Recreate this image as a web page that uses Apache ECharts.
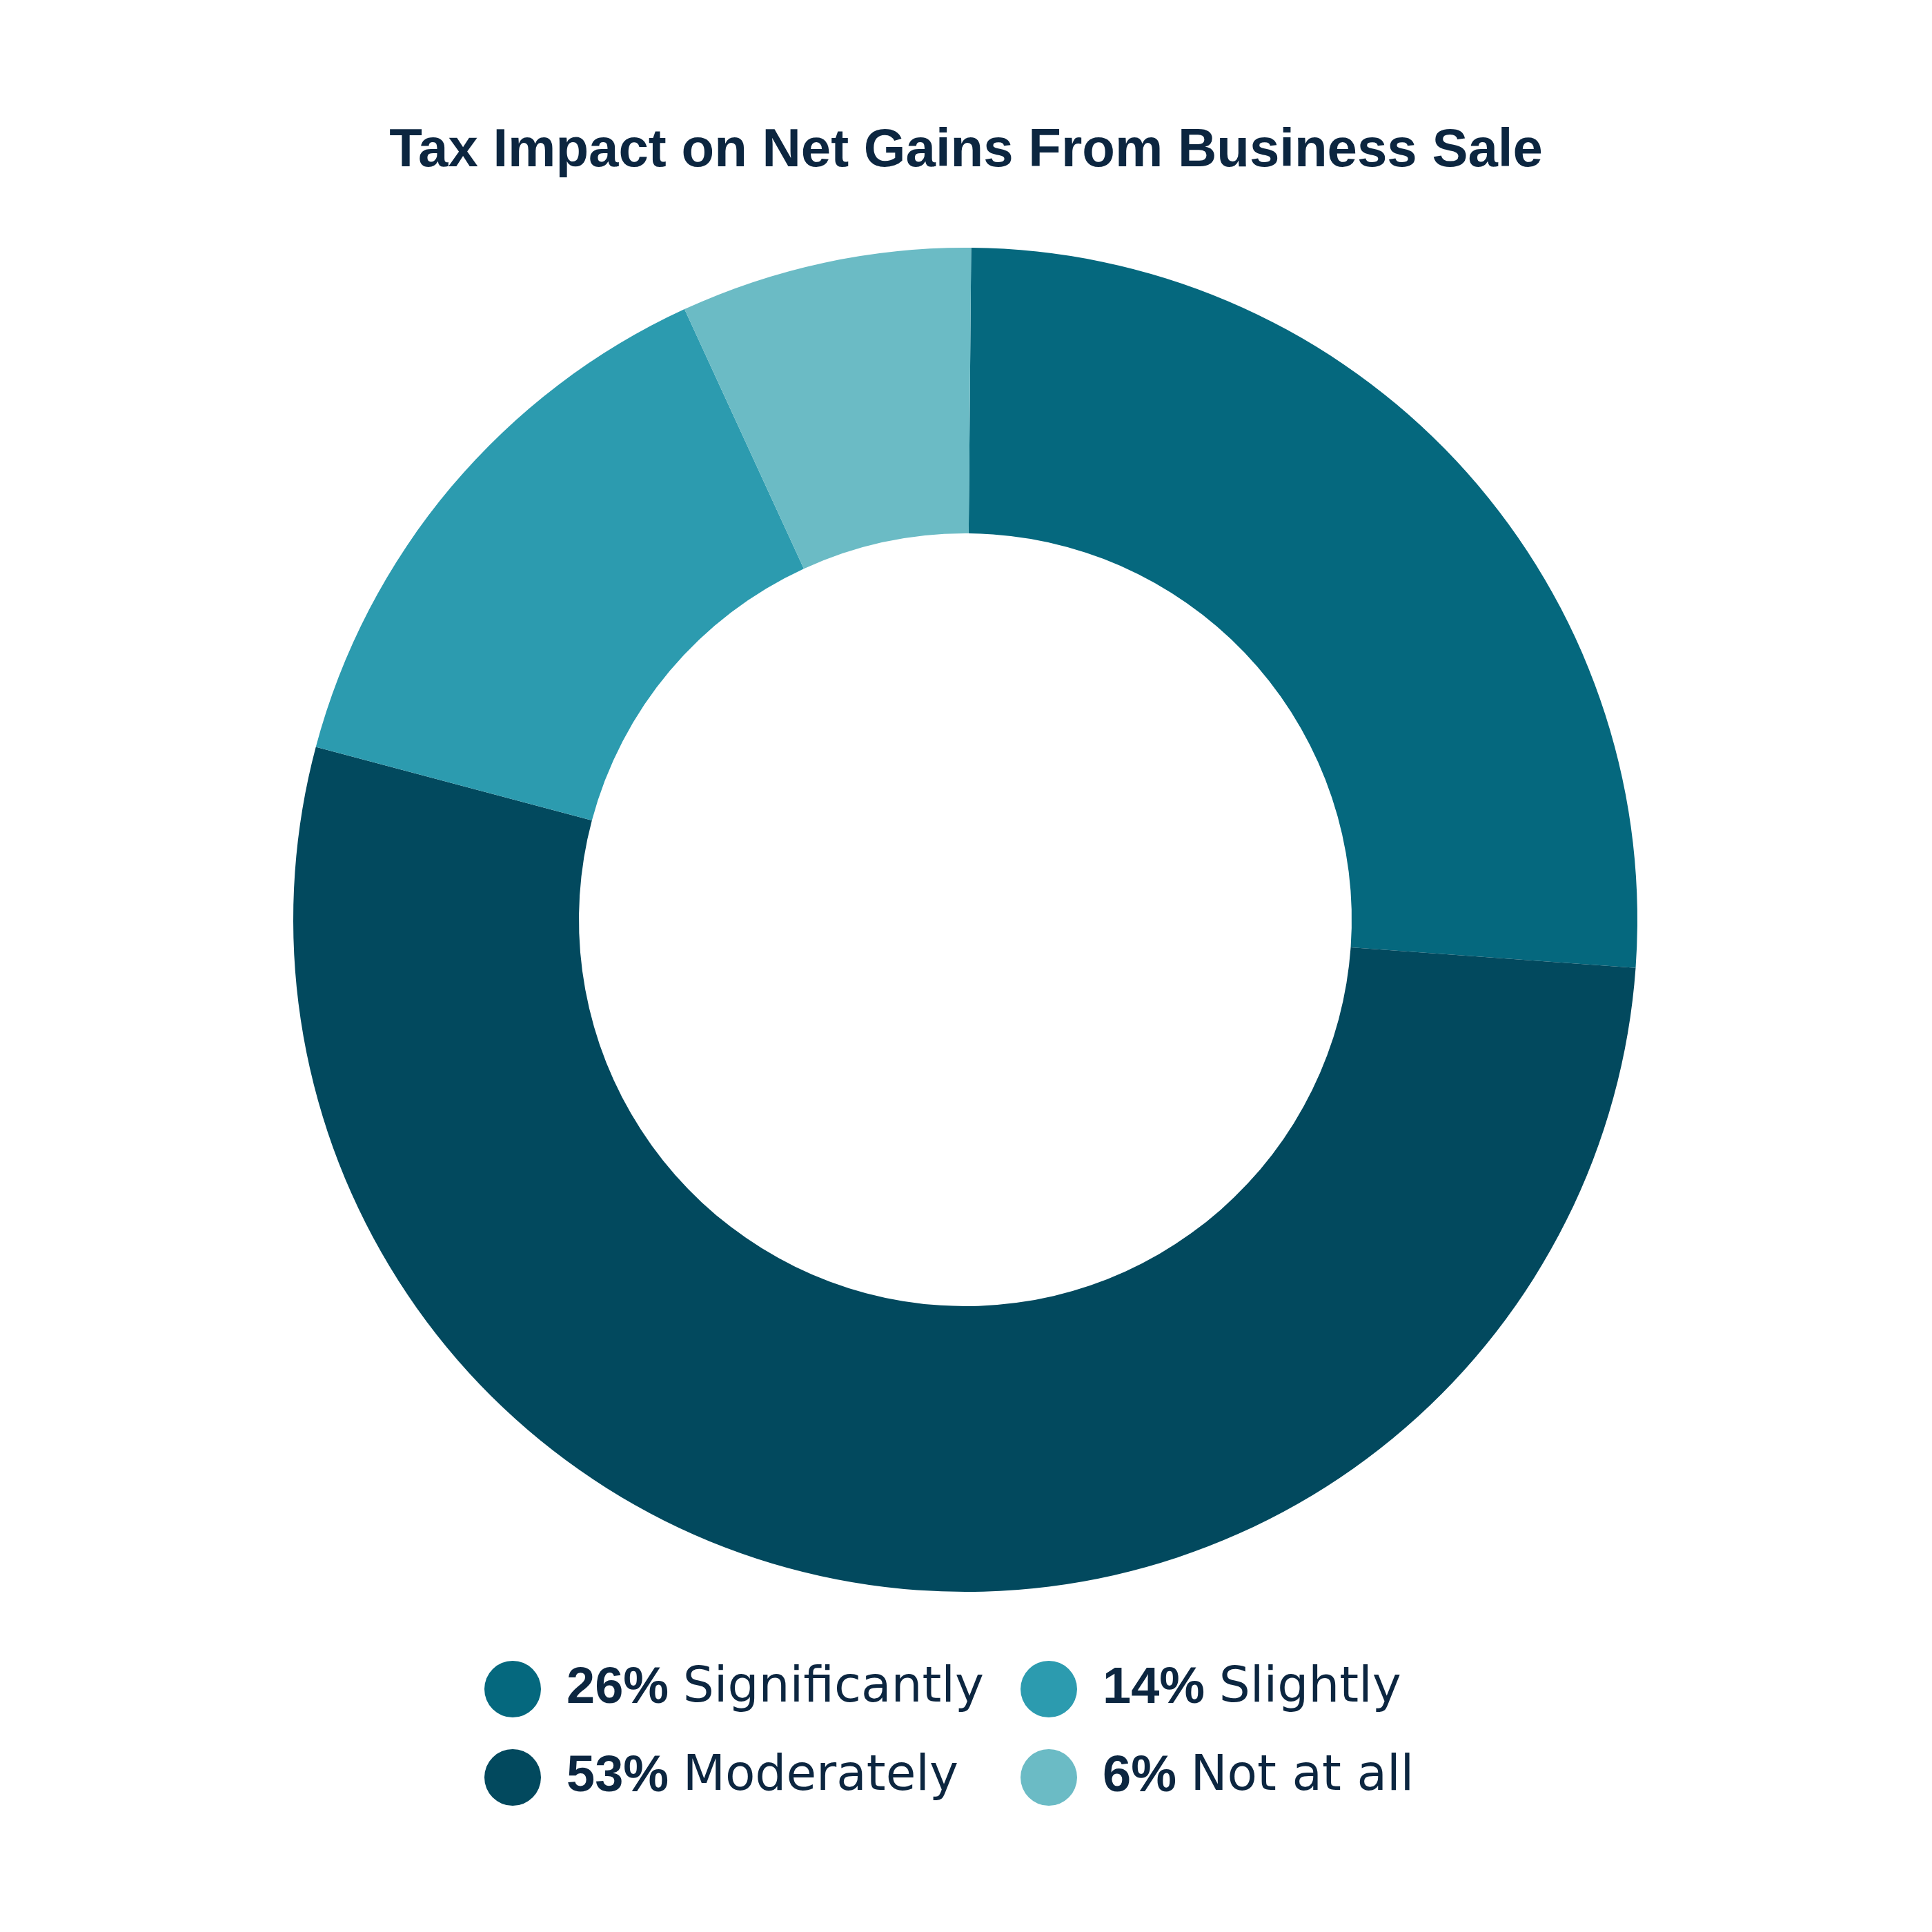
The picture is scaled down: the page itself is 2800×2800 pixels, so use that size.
<!DOCTYPE html>
<html>
<head>
<meta charset="utf-8">
<script src="https://cdn.jsdelivr.net/npm/echarts@6/dist/echarts.min.js"></script>
<style>
  html, body { margin: 0; padding: 0; background: #ffffff; }
  #chart { width: 2800px; height: 2800px; }
</style>
</head>
<body>
<div id="chart"></div>
<script>
const titleText = 'Tax Impact on Net Gains From Business Sale';
const categories = ['Significantly', 'Moderately', 'Slightly', 'Not at all'];
const sliceShares = [26, 53, 14, 7];            // slice sizes as drawn
const labelPercents = ['26%', '53%', '14%', '6%']; // percentages printed in legend
const colors = ['#05687e', '#02495e', '#2c9baf', '#6bbbc5'];

const textColor = '#0c2640';
const fontFamily = '"Liberation Sans", Arial, sans-serif';
const nameFont = '"DejaVu Sans", "Liberation Sans", sans-serif';

const labelOf = {};
categories.forEach((c, i) => { labelOf[c] = labelPercents[i]; });

const legendCommon = {
  orient: 'vertical',
  top: 2407,
  itemWidth: 82,
  itemHeight: 82,
  itemGap: 46,
  icon: 'circle',
  padding: 0,
  selectedMode: false,
  formatter: name => '{b|' + labelOf[name] + '} {n|' + name + '}',
  textStyle: {
    color: textColor,
    fontFamily: fontFamily,
    fontSize: 74,
    lineHeight: 82,
    rich: {
      b: { fontWeight: 'bold', fontSize: 74, color: textColor, fontFamily: fontFamily, padding: [0, 0, 0, 32] },
      n: { fontSize: 71, color: textColor, fontFamily: nameFont }
    }
  }
};

const chart = echarts.init(document.getElementById('chart'), null, { renderer: 'canvas' });
chart.setOption({
  backgroundColor: '#ffffff',
  animation: false,
  color: colors,
  title: {
    text: titleText,
    left: 'center',
    top: 175,
    textStyle: {
      color: textColor,
      fontFamily: fontFamily,
      fontWeight: 'bold',
      fontSize: 78
    }
  },
  legend: [
    Object.assign({}, legendCommon, { left: 702, data: [categories[0], categories[1]] }),
    Object.assign({}, legendCommon, { left: 1479, data: [categories[2], categories[3]] })
  ],
  series: [{
    type: 'pie',
    center: [1399, 1333],
    radius: [560, 974],
    startAngle: 89.5,
    clockwise: true,
    avoidLabelOverlap: false,
    label: { show: false },
    labelLine: { show: false },
    emphasis: { disabled: true },
    itemStyle: { borderWidth: 0 },
    data: categories.map((c, i) => ({ name: c, value: sliceShares[i] }))
  }]
});
</script>
</body>
</html>
